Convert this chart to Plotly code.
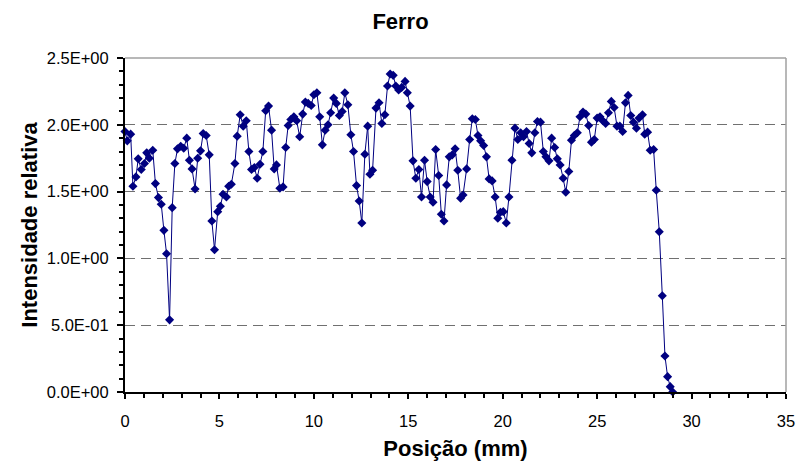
import plotly.graph_objects as go

# Position (mm)
posicao = [0, 0.12, 0.3, 0.42, 0.58, 0.7, 0.86, 1.03, 1.15, 1.29, 1.47, 1.61, 1.77, 1.92, 2.06, 2.2, 2.36, 2.5,
           2.64, 2.78, 2.95, 3.11, 3.27, 3.41, 3.55, 3.71, 3.85, 4.0, 4.14, 4.3, 4.46, 4.6, 4.74, 4.91, 5.05,
           5.19, 5.37, 5.49, 5.63, 5.82, 5.94, 6.1, 6.26, 6.42, 6.56, 6.7, 6.85, 7.0, 7.15, 7.3, 7.45, 7.6,
           7.76, 7.9, 8.02, 8.2, 8.37, 8.51, 8.64, 8.78, 8.94, 9.09, 9.25, 9.41, 9.55, 9.7, 9.86, 10.0,
           10.16, 10.31, 10.45, 10.6, 10.75, 10.89, 11.05, 11.19, 11.35, 11.5, 11.64, 11.8, 11.96, 12.1,
           12.26, 12.4, 12.54, 12.7, 12.85, 12.97, 13.11, 13.29, 13.45, 13.6, 13.76, 13.9, 14.04, 14.2,
           14.34, 14.49, 14.65, 14.83, 14.95, 15.1, 15.25, 15.4, 15.56, 15.7, 15.86, 16.0, 16.16, 16.31,
           16.45, 16.61, 16.75, 16.89, 17.03, 17.17, 17.33, 17.48, 17.62, 17.77, 17.9, 18.09, 18.25,
           18.39, 18.55, 18.69, 18.83, 18.99, 19.14, 19.28, 19.44, 19.6, 19.74, 19.88, 20.03, 20.19,
           20.33, 20.49, 20.65, 20.8, 20.95, 21.1, 21.26, 21.4, 21.54, 21.7, 21.84, 22.0, 22.15, 22.29,
           22.45, 22.59, 22.75, 22.89, 23.04, 23.2, 23.34, 23.5, 23.64, 23.79, 23.95, 24.09, 24.25,
           24.4, 24.55, 24.7, 24.85, 25.0, 25.15, 25.3, 25.45, 25.6, 25.75, 25.9, 26.05, 26.2, 26.35,
           26.5, 26.64, 26.78, 26.92, 27.08, 27.22, 27.4, 27.52, 27.67, 27.81, 27.99, 28.13, 28.29,
           28.45, 28.59, 28.73, 28.87, 29.0]

# Relative intensity
intensidade = [1.95, 1.88, 1.93, 1.54, 1.61, 1.745, 1.665, 1.71, 1.79, 1.75, 1.81, 1.56, 1.455, 1.405, 1.21,
               1.035, 0.54, 1.38, 1.71, 1.82, 1.84, 1.825, 1.9, 1.735, 1.67, 1.52, 1.75, 1.805, 1.935, 1.92,
               1.775, 1.28, 1.065, 1.35, 1.39, 1.48, 1.46, 1.54, 1.555, 1.71, 1.915, 2.075, 1.99, 2.03, 1.8,
               1.665, 1.68, 1.6, 1.705, 1.8, 2.105, 2.14, 1.96, 1.67, 1.7, 1.525, 1.535, 1.83, 1.995, 2.04,
               2.06, 2.03, 1.91, 2.08, 2.17, 2.16, 2.145, 2.225, 2.24, 2.06, 1.85, 1.96, 2.0, 2.09, 2.2,
               2.16, 2.07, 2.1, 2.24, 2.15, 1.925, 1.8, 1.545, 1.43, 1.265, 1.78, 1.99, 1.63, 1.66, 2.125,
               2.165, 2.01, 2.075, 2.29, 2.38, 2.37, 2.29, 2.26, 2.28, 2.325, 2.24, 2.14, 1.73, 1.6, 1.665,
               1.46, 1.735, 1.575, 1.46, 1.42, 1.815, 1.62, 1.33, 1.28, 1.55, 1.76, 1.775, 1.82, 1.66,
               1.45, 1.475, 1.67, 1.89, 2.045, 2.04, 1.92, 1.88, 1.845, 1.76, 1.595, 1.58, 1.46, 1.3,
               1.345, 1.35, 1.265, 1.46, 1.735, 1.975, 1.89, 1.94, 1.91, 1.95, 1.86, 1.79, 1.94, 2.025,
               2.02, 1.8, 1.76, 1.73, 1.9, 1.83, 1.745, 1.7, 1.6, 1.495, 1.65, 1.885, 1.92, 1.94, 2.06,
               2.095, 2.08, 1.995, 1.87, 1.89, 2.05, 2.06, 2.03, 2.01, 2.09, 2.175, 2.13, 1.99, 1.99, 1.95,
               2.165, 2.22, 2.07, 2.02, 1.975, 2.05, 2.075, 1.93, 1.945, 1.81, 1.815, 1.51, 1.2, 0.72,
               0.27, 0.115, 0.04, 0.0]

y_tickvals = [0, 0.5, 1.0, 1.5, 2.0, 2.5]
y_ticktext = ["0.0E+00", "5.0E-01", "1.0E+00", "1.5E+00", "2.0E+00", "2.5E+00"]
x_tickvals = [0, 5, 10, 15, 20, 25, 30, 35]

FONT = "Liberation Sans, Arial, sans-serif"

fig = go.Figure()
fig.add_trace(go.Scatter(
    x=posicao, y=intensidade, mode="lines+markers",
    line=dict(color="#000080", width=1),
    marker=dict(symbol="diamond", size=7, color="#000080"),
    cliponaxis=False, showlegend=False,
))

fig.update_layout(
    width=807, height=469,
    margin=dict(l=125, r=14, t=58, b=77),
    paper_bgcolor="white", plot_bgcolor="white",
    font=dict(family=FONT, size=16.5, color="black"),
    title=dict(text="<b>Ferro</b>", x=0.4963, xanchor="center", y=0.955, yref="container",
               yanchor="middle", font=dict(size=22, family=FONT)),
    xaxis=dict(
        range=[0, 35], tickvals=x_tickvals, showgrid=False, zeroline=False,
        showline=True, linecolor="black", linewidth=2,
        ticks="outside", ticklen=5, tickcolor="black", tickwidth=1.5,
        ticklabelstandoff=8,
        minor=dict(dtick=1, ticks="outside", ticklen=4, tickcolor="black", tickwidth=1.5, showgrid=False),
        title=dict(text="<b>Posição (mm)</b>", font=dict(size=22), standoff=12),
    ),
    yaxis=dict(
        range=[0, 2.5], tickvals=y_tickvals, ticktext=y_ticktext,
        showgrid=True, gridcolor="#707070", griddash="10px,6px", gridwidth=1,
        zeroline=False, showline=True, linecolor="black", linewidth=2,
        ticks="outside", ticklen=6, tickcolor="black", tickwidth=1.5,
        ticklabelstandoff=5,
        minor=dict(dtick=0.1, ticks="outside", ticklen=4, tickcolor="black", tickwidth=1.5, showgrid=False),
        title=dict(text="<b>Intensidade relativa</b>", font=dict(size=22), standoff=3),
    ),
    shapes=[
        dict(type="line", xref="paper", yref="paper", x0=0, x1=1, y0=1, y1=1,
             line=dict(color="#a0a0a0", width=1.5)),
        dict(type="line", xref="paper", yref="paper", x0=1, x1=1, y0=0, y1=1,
             line=dict(color="#a0a0a0", width=1.5)),
    ],
)

fig.write_html("out.html", config={"displayModeBar": False},
               post_script="document.body.style.margin='0px';")
